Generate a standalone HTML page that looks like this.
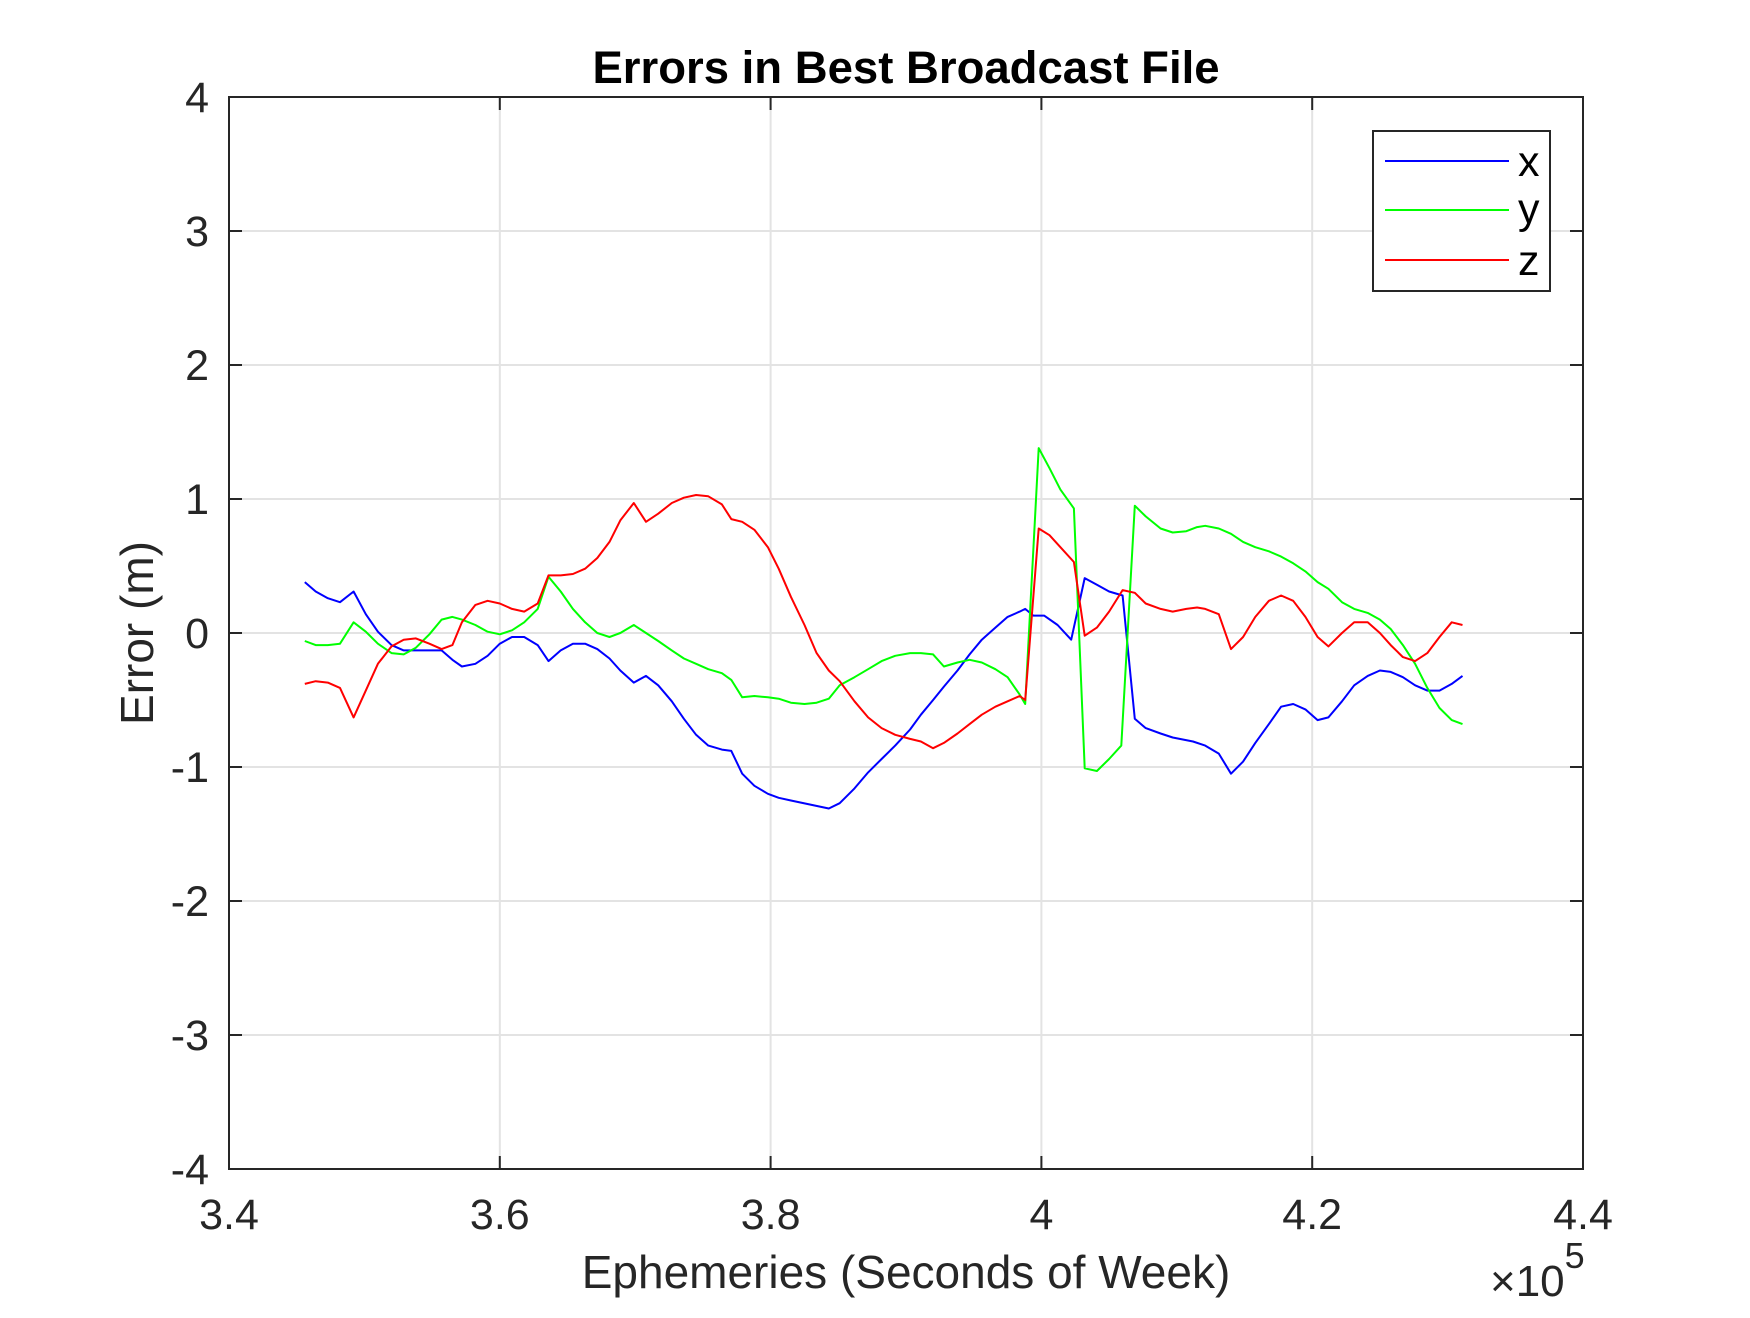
<!DOCTYPE html>
<html><head><meta charset="utf-8"><style>
html,body{margin:0;padding:0;background:#fff;}
svg text{font-family:"Liberation Sans",Arial,sans-serif;fill:#262626;}
</style></head><body>
<svg id="chart" width="1750" height="1313" viewBox="0 0 1750 1313" xmlns="http://www.w3.org/2000/svg">
<rect x="0" y="0" width="1750" height="1313" fill="#fff"/>
<g id="grid"></g>
<g id="series"></g>
<rect x="229" y="97" width="1354" height="1072" fill="none" stroke="#262626" stroke-width="2"/>
<g id="ticks"></g>
<text x="906" y="83" text-anchor="middle" font-size="45.5" font-weight="bold" style="fill:#000">Errors in Best Broadcast File</text>
<text x="906" y="1288" text-anchor="middle" font-size="46">Ephemeries (Seconds of Week)</text>
<text transform="translate(153,633) rotate(-90)" text-anchor="middle" font-size="46">Error (m)</text>
<text x="1490" y="1296" font-size="44">×10<tspan font-size="36" dy="-28">5</tspan></text>
<g>
<rect x="1373" y="131" width="177" height="160" fill="#fff" stroke="#262626" stroke-width="2"/>
<line x1="1385" y1="161" x2="1509" y2="161" stroke="#0000ff" stroke-width="2"/>
<text x="1518" y="176" font-size="43" style="fill:#000">x</text>
<line x1="1385" y1="210" x2="1509" y2="210" stroke="#00ff00" stroke-width="2"/>
<text x="1518" y="223" font-size="43" style="fill:#000">y</text>
<line x1="1385" y1="260" x2="1509" y2="260" stroke="#ff0000" stroke-width="2"/>
<text x="1518" y="275" font-size="43" style="fill:#000">z</text>
</g>
</svg>
<script>
const xTicks=[3.4,3.6,3.8,4,4.2,4.4];
const xTickLabels=["3.4","3.6","3.8","4","4.2","4.4"];
const yTicks=[-4,-3,-2,-1,0,1,2,3,4];
const yTickLabels=["-4","-3","-2","-1","0","1","2","3","4"];
const tX=[345.6,346.4,347.3,348.2,349.2,350.1,351.0,352.0,352.9,353.8,354.8,355.7,356.5,357.2,358.2,359.1,360.0,360.9,361.8,362.8,363.6,364.5,365.4,366.3,367.2,368.1,368.9,369.9,370.8,371.7,372.7,373.6,374.5,375.4,376.4,377.1,377.9,378.8,379.8,380.6,381.5,384.3,385.1,386.2,387.2,388.2,389.2,390.3,391.1,392.0,392.8,393.8,394.7,395.6,396.6,397.5,398.4,398.8,399.4,400.2,401.2,402.2,403.2,404.1,405.0,406.0,406.9,407.7,408.8,409.7,411.2,412.1,413.1,414.0,414.9,415.8,416.8,417.7,418.6,419.5,420.4,421.2,422.2,423.1,424.1,425.0,425.8,426.7,427.6,428.5,429.4,430.3,431.1];
const errX=[.38,.31,.26,.23,.31,.14,.01,-.09,-.13,-.13,-.13,-.13,-.2,-.25,-.23,-.17,-.08,-.03,-.03,-.09,-.21,-.13,-.08,-.08,-.12,-.19,-.28,-.37,-.32,-.39,-.51,-.64,-.76,-.84,-.87,-.88,-1.05,-1.14,-1.2,-1.23,-1.25,-1.31,-1.27,-1.16,-1.04,-.94,-.84,-.72,-.61,-.5,-.4,-.28,-.16,-.05,.04,.12,.16,.18,.13,.13,.06,-.05,.41,.36,.31,.28,-.64,-.71,-.75,-.78,-.81,-.84,-.9,-1.05,-.96,-.82,-.68,-.55,-.53,-.57,-.65,-.63,-.51,-.39,-.32,-.28,-.29,-.33,-.39,-.43,-.43,-.38,-.32];
const tY=[345.6,346.4,347.3,348.2,349.2,350.1,351.0,352.0,352.9,353.8,354.8,355.7,356.5,357.2,358.2,359.1,360.0,360.9,361.8,362.8,363.6,364.5,365.4,366.3,367.2,368.1,368.9,369.9,370.8,371.7,372.7,373.6,374.5,375.4,376.4,377.1,377.9,378.8,379.8,380.6,381.5,382.5,383.4,384.3,385.1,386.2,387.2,388.2,389.2,390.3,391.1,392.0,392.8,393.8,394.7,395.6,396.6,397.5,398.4,398.8,399.8,400.6,401.4,402.4,403.2,404.1,405.0,405.9,406.9,407.7,408.8,409.7,410.7,411.5,412.1,413.1,414.0,414.9,415.8,416.8,417.7,418.6,419.5,420.4,421.2,422.2,423.1,424.1,425.0,425.8,426.7,427.6,428.5,429.4,430.3,431.1];
const errY=[-.06,-.09,-.09,-.08,.08,.01,-.08,-.15,-.16,-.11,-.01,.1,.12,.1,.06,.01,-.01,.02,.08,.18,.42,.31,.18,.08,0,-.03,0,.06,0,-.06,-.13,-.19,-.23,-.27,-.3,-.35,-.48,-.47,-.48,-.49,-.52,-.53,-.52,-.49,-.39,-.33,-.27,-.21,-.17,-.15,-.15,-.16,-.25,-.22,-.2,-.22,-.27,-.33,-.46,-.53,1.38,1.23,1.07,.93,-1.01,-1.03,-.94,-.84,.95,.87,.78,.75,.76,.79,.8,.78,.74,.68,.64,.61,.57,.52,.46,.38,.33,.23,.18,.15,.1,.03,-.09,-.23,-.41,-.56,-.65,-.68];
const tZ=[345.6,346.4,347.3,348.2,349.2,350.1,351.0,352.0,352.9,353.8,354.8,355.7,356.5,357.2,358.2,359.1,360.0,360.9,361.8,362.8,363.6,364.5,365.4,366.3,367.2,368.1,368.9,369.9,370.8,371.7,372.7,373.6,374.5,375.4,376.4,377.1,377.9,378.8,379.8,380.6,381.5,382.5,383.4,384.3,385.1,386.2,387.2,388.2,389.2,390.3,391.1,392.0,392.8,393.8,394.7,395.6,396.6,397.5,398.4,398.8,399.8,400.6,401.4,402.4,403.2,404.1,405.0,406.0,406.9,407.7,408.8,409.7,410.7,411.5,412.1,413.1,414.0,414.9,415.8,416.8,417.7,418.6,419.5,420.4,421.2,422.2,423.1,424.1,425.0,425.8,426.7,427.6,428.5,429.4,430.3,431.1];
const errZ=[-.38,-.36,-.37,-.41,-.63,-.43,-.23,-.1,-.05,-.04,-.08,-.12,-.09,.08,.21,.24,.22,.18,.16,.22,.43,.43,.44,.48,.56,.68,.84,.97,.83,.89,.97,1.01,1.03,1.02,.96,.85,.83,.77,.64,.48,.27,.06,-.15,-.28,-.36,-.51,-.63,-.71,-.76,-.79,-.81,-.86,-.82,-.75,-.68,-.61,-.55,-.51,-.47,-.5,.78,.73,.64,.53,-.02,.04,.16,.32,.3,.22,.18,.16,.18,.19,.18,.14,-.12,-.03,.12,.24,.28,.24,.12,-.03,-.1,0,.08,.08,0,-.09,-.18,-.21,-.15,-.03,.08,.06];

const L=229,R=1583,T=97,B=1169;
function sx(v){return L+(v-3.4)/(1.0)*(R-L);}
function sy(v){return B-(v+4)/8*(B-T);}
const NS="http://www.w3.org/2000/svg";
function mk(tag,attrs,parent){const e=document.createElementNS(NS,tag);for(const k in attrs)e.setAttribute(k,attrs[k]);parent.appendChild(e);return e;}
const grid=document.getElementById('grid'),ticks=document.getElementById('ticks'),series=document.getElementById('series');
xTicks.forEach((v,i)=>{
  const x=sx(v);
  if(i>0&&i<xTicks.length-1){const g=mk('line',{x1:x,y1:T,x2:x,y2:B,stroke:'#e3e3e3','stroke-width':2},grid);
  
  }
  const t1=mk('line',{x1:x,y1:B,x2:x,y2:B-13,stroke:'#262626','stroke-width':2},ticks);
  
  
  mk('line',{x1:x,y1:T,x2:x,y2:T+13,stroke:'#262626','stroke-width':2},ticks);
  const lb=mk('text',{x:x,y:1229,'text-anchor':'middle','font-size':43},ticks);
  lb.textContent=xTickLabels[i];
  
  
});
yTicks.forEach((v,i)=>{
  const y=sy(v);
  if(i>0&&i<yTicks.length-1){const g=mk('line',{x1:L,y1:y,x2:R,y2:y,stroke:'#e3e3e3','stroke-width':2},grid);
  
  }
  const t1=mk('line',{x1:L,y1:y,x2:L+13,y2:y,stroke:'#262626','stroke-width':2},ticks);
  
  
  mk('line',{x1:R,y1:y,x2:R-13,y2:y,stroke:'#262626','stroke-width':2},ticks);
  const lb=mk('text',{x:209,y:y+15,'text-anchor':'end','font-size':43},ticks);
  lb.textContent=yTickLabels[i];
  
  
});
function drawLine(ts,vs,color,name){
  const pts=ts.map((t,i)=>sx(t/100).toFixed(1)+','+sy(vs[i]).toFixed(1)).join(' ');
  const p=mk('polyline',{points:pts,fill:'none',stroke:color,'stroke-width':2,'stroke-linejoin':'round'},series);
  
  
}
drawLine(tX,errX,'#0000ff','series-x');
drawLine(tY,errY,'#00ff00','series-y');
drawLine(tZ,errZ,'#ff0000','series-z');
</script>
</body></html>
